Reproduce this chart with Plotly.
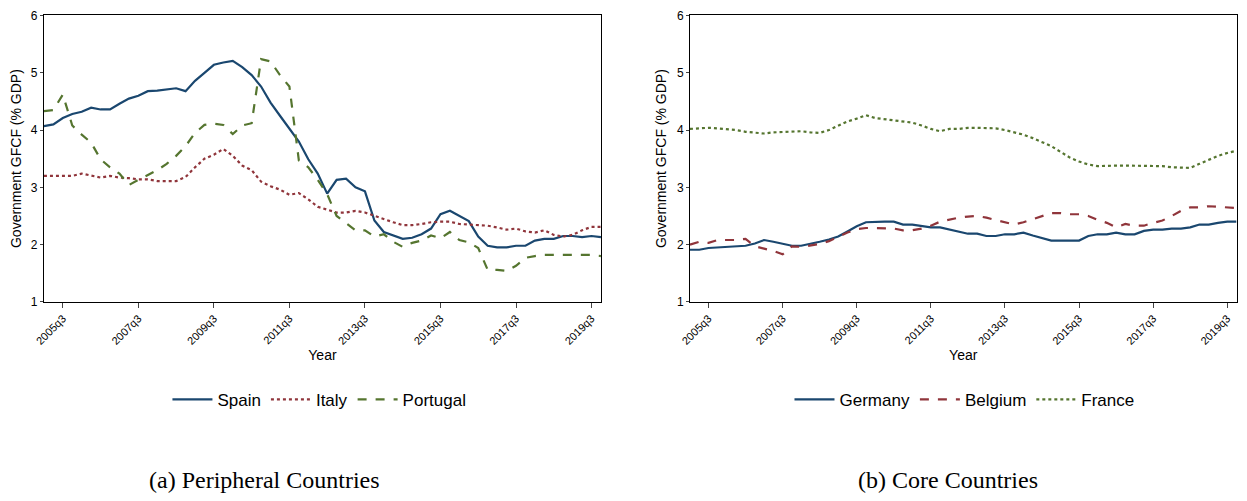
import plotly.graph_objects as go

quarters = [f"{2005 + (i + 0) // 4}q{(i % 4) + 1}" for i in range(60)]
tick_idx = list(range(2, 60, 8))
tick_labels = [quarters[i] for i in tick_idx]

spain = [4.07,4.10,4.21,4.28,4.32,4.39,4.36,4.36,4.46,4.55,4.60,4.68,4.69,4.71,4.73,4.68,4.86,5.00,5.14,5.18,
         5.21,5.10,4.96,4.76,4.48,4.25,4.03,3.80,3.49,3.24,2.89,3.13,3.15,3.00,2.93,2.42,2.22,2.16,2.10,2.12,
         2.18,2.28,2.53,2.59,2.50,2.41,2.14,1.98,1.95,1.95,1.98,1.98,2.07,2.10,2.10,2.15,2.15,2.13,2.15,2.13]
italy = [3.20,3.20,3.20,3.20,3.24,3.20,3.17,3.20,3.17,3.16,3.14,3.14,3.11,3.11,3.11,3.18,3.35,3.50,3.57,3.67,
         3.55,3.38,3.30,3.10,3.02,2.96,2.87,2.90,2.79,2.66,2.61,2.56,2.56,2.59,2.56,2.50,2.45,2.39,2.34,2.34,
         2.36,2.39,2.40,2.40,2.36,2.35,2.35,2.33,2.30,2.26,2.28,2.23,2.21,2.25,2.17,2.14,2.17,2.25,2.31,2.31]
portugal = [4.33,4.35,4.62,4.08,3.92,3.78,3.49,3.35,3.24,3.04,3.13,3.21,3.30,3.41,3.55,3.72,3.95,4.09,4.11,4.09,
            3.93,4.08,4.12,5.24,5.20,4.96,4.76,3.47,3.35,3.13,2.88,2.50,2.37,2.25,2.25,2.14,2.18,2.05,1.96,2.03,
            2.07,2.16,2.11,2.22,2.08,2.04,1.94,1.56,1.56,1.54,1.63,1.77,1.80,1.82,1.82,1.82,1.82,1.82,1.82,1.80]
germany = [1.91,1.91,1.94,1.95,1.96,1.98,1.98,2.02,2.08,2.05,2.02,1.98,1.98,2.01,2.05,2.09,2.14,2.23,2.32,2.39,
           2.40,2.40,2.40,2.35,2.35,2.32,2.30,2.30,2.26,2.23,2.19,2.19,2.15,2.15,2.18,2.18,2.21,2.16,2.11,2.07,
           2.07,2.07,2.07,2.15,2.18,2.18,2.21,2.18,2.18,2.24,2.26,2.26,2.28,2.28,2.30,2.35,2.35,2.38,2.40,2.40]
belgium = [2.00,2.05,2.03,2.08,2.08,2.08,2.10,1.97,1.93,1.89,1.83,1.97,1.96,1.98,2.01,2.06,2.14,2.21,2.27,2.29,
           2.29,2.28,2.28,2.25,2.25,2.28,2.33,2.40,2.44,2.47,2.49,2.50,2.47,2.43,2.39,2.35,2.39,2.44,2.50,2.55,
           2.55,2.53,2.53,2.50,2.43,2.38,2.30,2.36,2.33,2.33,2.38,2.42,2.50,2.59,2.65,2.65,2.67,2.66,2.65,2.64]
france = [4.02,4.03,4.04,4.03,4.02,4.00,3.97,3.95,3.94,3.96,3.97,3.98,3.98,3.96,3.95,4.00,4.07,4.15,4.20,4.26,
          4.21,4.19,4.18,4.16,4.13,4.08,4.02,3.98,4.02,4.02,4.04,4.04,4.04,4.03,4.00,3.96,3.92,3.86,3.79,3.72,
          3.62,3.52,3.45,3.40,3.37,3.38,3.38,3.38,3.38,3.38,3.38,3.37,3.35,3.34,3.34,3.41,3.48,3.55,3.60,3.64]

BLUE, RED, GREEN = "#1a476f", "#90353b", "#55752f"
x = list(range(60))
fig = go.Figure()
def add(y, name, color, dash, xa, ya, leg):
    fig.add_trace(go.Scatter(x=x, y=y, name=name, mode="lines", xaxis=xa, yaxis=ya, legend=leg,
                             line=dict(color=color, dash=dash, width=2.2)))
add(spain, "Spain", BLUE, "solid", "x", "y", "legend")
add(italy, "Italy", RED, "dot", "x", "y", "legend")
add(portugal, "Portugal", GREEN, "dash", "x", "y", "legend")
add(germany, "Germany", BLUE, "solid", "x2", "y2", "legend2")
add(belgium, "Belgium", RED, "dash", "x2", "y2", "legend2")
add(france, "France", GREEN, "dot", "x2", "y2", "legend2")

font = dict(family="Liberation Sans, Arial", size=12, color="black")
xcommon = dict(range=[0, 59], tickvals=tick_idx, ticktext=tick_labels, tickangle=-45, ticks="outside",
               ticklen=5, showgrid=False, zeroline=False, showline=True, linecolor="black", mirror=True,
               automargin=False,
               title=dict(text="Year", font=dict(size=14), standoff=4), tickfont=dict(size=11))
ycommon = dict(range=[0.999, 6.005], tickvals=[1, 2, 3, 4, 5, 6], ticks="outside", ticklen=3, showgrid=False,
               zeroline=False, showline=True, linecolor="black", mirror=True, automargin=False,
               title=dict(text="Government GFCF (% GDP)", font=dict(size=14), standoff=6), tickfont=dict(size=12))
fig.update_layout(
    width=1231, height=485, margin=dict(l=0, r=0, t=0, b=0, autoexpand=False),
    paper_bgcolor="white", plot_bgcolor="white",
    font=font,
    xaxis=dict(domain=[0.0292, 0.4817], anchor="y", **xcommon),
    yaxis=dict(domain=[0.394, 0.985], anchor="x", **ycommon),
    xaxis2=dict(domain=[0.554, 0.998], anchor="y2", **xcommon),
    yaxis2=dict(domain=[0.394, 0.985], anchor="x2", **ycommon),
    legend=dict(orientation="h", x=0.253, y=0.192, xanchor="center", yanchor="middle", font=dict(size=17),
                itemwidth=40, tracegroupgap=0),
    legend2=dict(orientation="h", x=0.777, y=0.192, xanchor="center", yanchor="middle", font=dict(size=17),
                 itemwidth=40),
    annotations=[
        dict(text="(a) Peripheral Countries", x=0.208, y=0.027, xref="paper", yref="paper", showarrow=False,
             xanchor="center", yanchor="middle",
             font=dict(family="Liberation Serif, DejaVu Serif", size=24)),
        dict(text="(b) Core Countries", x=0.764, y=0.027, xref="paper", yref="paper", showarrow=False,
             xanchor="center", yanchor="middle",
             font=dict(family="Liberation Serif, DejaVu Serif", size=24)),
    ],
)
fig.write_html("out.html")
